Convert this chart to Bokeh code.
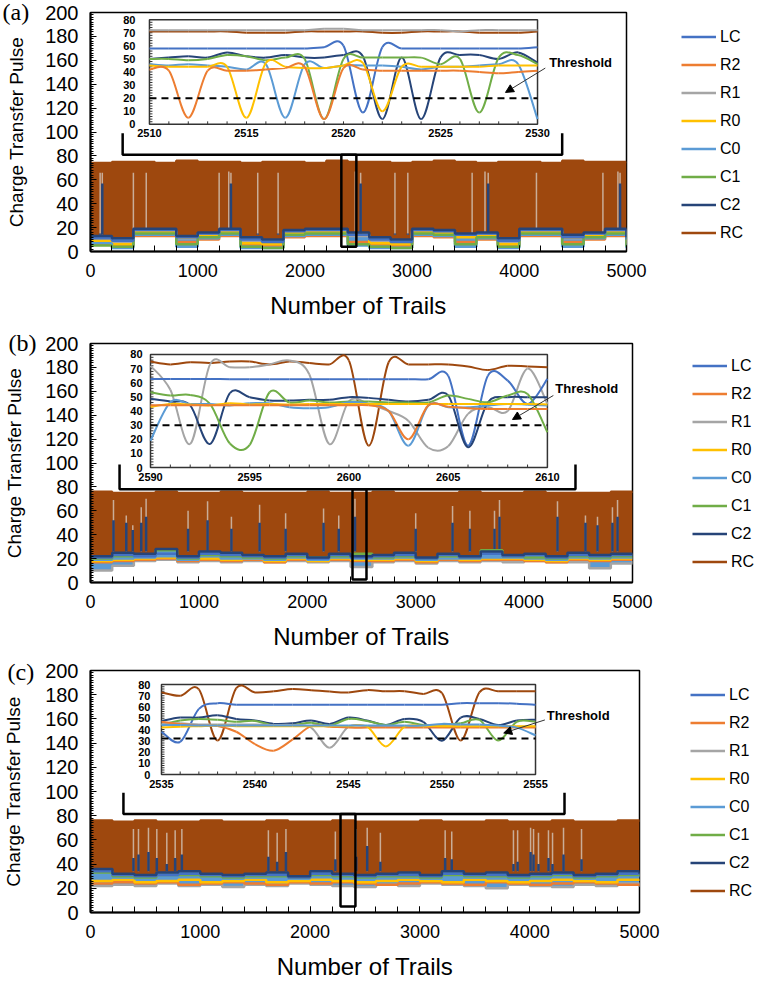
import numpy as np
from bokeh.plotting import figure
from bokeh.models import (Range1d, SingleIntervalTicker, Legend, LegendItem,
                          Label, Arrow, NormalHead)
from bokeh.layouts import column
from bokeh.embed import file_html
from bokeh.resources import INLINE
from bokeh.core.properties import value

FONT = "Liberation Sans"
SERIES = ["LC", "R2", "R1", "R0", "C0", "C1", "C2"]
COLORS = {"LC": "#4472C4", "R2": "#ED7D31", "R1": "#A5A5A5", "R0": "#FFC000",
          "C0": "#5B9BD5", "C1": "#70AD47", "C2": "#264478", "RC": "#9E480E"}

# ---------------- main panels: trials sampled every 200 ----------------
trial_x = [0, 200, 400, 600, 800, 1000, 1200, 1400, 1600, 1800, 2000, 2200, 2400,
           2600, 2800, 3000, 3200, 3400, 3600, 3800, 4000, 4200, 4400, 4600, 4800, 5000]

# panel (a)
a_RC = [74, 75, 75, 74, 76, 75, 75, 74, 75, 75, 74, 76, 75, 75, 74, 75, 76, 75, 74, 75, 75, 74, 76, 75, 75, 75]
a_C2 = [13, 11, 19, 19, 13, 16, 19, 12, 10, 18, 19, 19, 16, 12, 10, 19, 18, 15, 16, 11, 19, 19, 14, 16, 19, 12]
a_LC = [11, 9, 18, 18, 12, 15, 18, 10, 8, 17, 18, 18, 14, 10, 8, 18, 17, 14, 15, 9, 18, 18, 12, 15, 18, 10]
a_R1 = [10, 8, 17, 17, 11, 14, 17, 9, 7, 16, 17, 17, 13, 9, 7, 17, 16, 13, 14, 8, 17, 17, 11, 14, 17, 9]
a_R0 = [9, 6, 16, 16, 12, 13, 16, 7, 6, 15, 16, 16, 14, 7, 6, 16, 15, 12, 13, 6, 16, 16, 12, 13, 16, 7]
a_C1 = [5, 4, 15, 15, 6, 12, 15, 4, 3, 14, 15, 15, 6, 4, 3, 15, 14, 6, 12, 4, 15, 15, 6, 12, 15, 4]
a_C0 = [7, 3, 14, 14, 4, 11, 14, 3, 3, 13, 14, 14, 5, 3, 3, 14, 13, 4, 11, 3, 14, 14, 4, 11, 14, 3]
a_R2 = [6, 5, 13, 13, 8, 10, 13, 6, 5, 12, 13, 13, 8, 6, 5, 13, 12, 8, 10, 5, 13, 13, 8, 10, 13, 6]
a_spike_x = [90, 110, 400, 520, 1200, 1290, 1310, 1560, 1750, 2470, 2520, 2840, 2960, 3560, 3680, 3710, 4160, 4780, 4920, 4940]
a_spike_top = [66, 66, 66, 66, 66, 67, 66, 66, 66, 67, 66, 66, 66, 66, 67, 66, 66, 66, 67, 66]
a_spike_navy = [15, 57, 15, 15, 15, 15, 57, 15, 15, 15, 57, 15, 15, 15, 15, 57, 15, 15, 15, 57]

# panel (b)
b_RC = [76, 75, 75, 76, 75, 75, 76, 75, 75, 75, 76, 75, 75, 76, 75, 75, 75, 76, 75, 75, 76, 75, 75, 75, 76, 75]
b_C2 = [22, 25, 24, 28, 22, 26, 25, 23, 22, 24, 21, 24, 22, 23, 25, 21, 24, 22, 26, 23, 24, 22, 25, 23, 24, 25]
b_LC = [21, 23, 22, 24, 21, 24, 23, 22, 21, 23, 20, 23, 21, 22, 23, 20, 23, 21, 24, 22, 23, 21, 23, 22, 23, 23]
b_C1 = [20, 22, 23, 27, 20, 23, 22, 21, 20, 22, 21, 22, 24, 21, 22, 20, 22, 21, 27, 22, 21, 20, 22, 21, 22, 22]
b_C0 = [19, 20, 21, 22, 19, 22, 20, 20, 19, 21, 19, 21, 20, 20, 21, 19, 20, 20, 21, 21, 20, 19, 21, 20, 21, 21]
b_R0 = [18, 19, 20, 21, 19, 20, 19, 20, 18, 20, 18, 20, 19, 19, 20, 18, 20, 19, 20, 20, 19, 18, 20, 19, 20, 20]
b_R2 = [17, 18, 19, 20, 18, 19, 18, 19, 17, 19, 18, 19, 18, 18, 19, 17, 19, 18, 19, 19, 18, 17, 19, 18, 19, 19]
b_R1 = [10, 14, 18, 19, 17, 18, 17, 18, 17, 18, 17, 18, 13, 17, 18, 16, 18, 17, 18, 17, 18, 17, 17, 12, 16, 18]
b_spike_x = [212, 330, 390, 468, 513, 900, 1080, 1300, 1560, 1800, 2150, 2290, 2440, 3000, 3340, 3500, 3727, 3773, 4308, 4566, 4677, 4815, 4862]
b_spike_top = [69, 56, 48, 63, 70, 60, 68, 55, 65, 58, 62, 56, 70, 58, 64, 60, 60, 69, 68, 56, 55, 63, 69]
b_spike_navy = [52, 50, 44, 50, 55, 45, 52, 45, 50, 45, 50, 45, 55, 45, 50, 45, 45, 55, 55, 50, 48, 50, 55]

# panel (c)
c_RC = [76, 75, 76, 75, 75, 76, 75, 75, 76, 75, 75, 76, 75, 75, 75, 76, 75, 75, 76, 75, 75, 76, 75, 75, 76, 75]
c_C2 = [36, 32, 31, 33, 34, 32, 31, 32, 33, 30, 34, 32, 31, 32, 33, 31, 34, 32, 33, 31, 32, 33, 31, 32, 34, 32]
c_LC = [34, 31, 30, 31, 32, 31, 30, 31, 31, 29, 32, 31, 30, 31, 31, 30, 32, 31, 31, 30, 31, 32, 30, 31, 32, 31]
c_C1 = [33, 30, 29, 31, 31, 30, 29, 30, 30, 29, 31, 30, 29, 30, 30, 29, 31, 30, 30, 29, 30, 31, 29, 30, 31, 30]
c_C0 = [31, 29, 28, 30, 30, 29, 28, 29, 29, 28, 30, 29, 28, 29, 29, 28, 30, 29, 29, 28, 29, 30, 28, 29, 30, 29]
c_R0 = [26, 27, 25, 26, 27, 25, 26, 27, 25, 26, 27, 26, 25, 26, 27, 26, 25, 27, 26, 25, 26, 27, 26, 25, 27, 26]
c_R2 = [24, 25, 24, 25, 23, 24, 25, 24, 23, 25, 24, 25, 24, 23, 24, 25, 24, 23, 25, 24, 23, 24, 25, 24, 23, 24]
c_R1 = [22, 23, 22, 24, 22, 23, 21, 23, 22, 24, 23, 22, 21, 23, 22, 24, 23, 22, 20, 23, 22, 21, 23, 22, 24, 21]
c_spike_x = [391, 437, 528, 604, 695, 771, 832, 1620, 1700, 1780, 2230, 2420, 2520, 2640, 3230, 3290, 3852, 3890, 4008, 4035, 4080, 4171, 4208, 4308, 4472]
c_spike_top = [69, 69, 70, 69, 66, 68, 69, 68, 66, 69, 67, 69, 70, 66, 68, 67, 68, 68, 70, 69, 66, 68, 66, 70, 69]
c_spike_navy = [45, 48, 50, 45, 40, 45, 48, 46, 42, 50, 44, 46, 55, 42, 45, 44, 40, 42, 50, 48, 40, 45, 40, 48, 44]

# ---------------- insets ----------------
inset_y_ticks = [0, 10, 20, 30, 40, 50, 60, 70, 80]

ia_x = list(range(2510, 2531))
ia_xticks = [2510, 2515, 2520, 2525, 2530]
ia_threshold = 20
ia_RC = [71, 71, 71, 71, 71, 70, 70, 70, 71, 71, 71, 71, 70, 70, 71, 71, 71, 70, 70, 70, 71]
ia_R1 = [72, 72, 72, 72, 72, 72, 72, 72, 72, 73, 73, 72, 72, 72, 72, 72, 71, 72, 72, 72, 72]
ia_LC = [58, 58, 58, 58, 58, 58, 58, 58, 58, 59, 60, 9, 59, 58, 58, 58, 58, 58, 58, 58, 59]
ia_C2 = [50, 51, 52, 51, 55, 52, 51, 53, 51, 51, 53, 52, 4, 51, 4, 51, 53, 53, 50, 55, 47]
ia_C1 = [50, 50, 49, 50, 53, 52, 49, 51, 50, 4, 50, 51, 51, 51, 51, 46, 50, 9, 51, 53, 46]
ia_C0 = [46, 45, 46, 45, 44, 42, 46, 5, 46, 43, 45, 45, 45, 44, 42, 44, 44, 45, 46, 46, 4]
ia_R0 = [45, 44, 44, 44, 44, 5, 47, 44, 43, 43, 45, 47, 10, 44, 44, 44, 44, 44, 45, 45, 45]
ia_R2 = [42, 41, 5, 41, 41, 41, 42, 43, 44, 4, 43, 42, 41, 41, 41, 41, 41, 40, 39, 40, 41]

ib_x = list(range(2590, 2611))
ib_xticks = [2590, 2595, 2600, 2605, 2610]
ib_threshold = 30
ib_RC = [75, 73, 74.5, 74, 75, 75, 73, 75, 74, 73, 75.7, 15.5, 74.5, 73, 73, 73, 71.5, 69, 72, 71.5, 71]
ib_R1 = [72, 55, 16.7, 73, 71, 71, 73, 75.7, 66, 16.7, 47, 45, 40, 33, 14, 15, 38, 42.7, 40, 70, 45]
ib_LC = [62.7, 62.7, 62.7, 62.7, 62.5, 62.5, 62.5, 62.5, 62.5, 62.5, 62.5, 62.5, 62.5, 62.5, 62.5, 65, 15.5, 65, 61.5, 45, 62.7]
ib_C2 = [48.6, 46.7, 44, 16.7, 52.6, 49.8, 47.4, 47.4, 47.9, 47.9, 49.8, 49.3, 47.9, 46.7, 47.9, 51, 14.4, 46.2, 49.8, 49.8, 49.8]
ib_C1 = [53.3, 51, 51.4, 45, 17, 16, 53.3, 46, 47.4, 46, 46.7, 46.7, 46, 46, 46, 51, 48.6, 46.2, 51, 52, 25]
ib_C0 = [19, 46.2, 45, 45, 43.9, 45.5, 45.5, 42.7, 42, 42.7, 46.2, 45, 40, 15.5, 43.9, 42.7, 42.7, 43.9, 45, 44.5, 43.9]
ib_R0 = [43, 45, 44.7, 44, 45.5, 44.7, 45, 44.7, 45, 45, 45, 45, 45, 45, 45, 45, 45, 45, 45, 45, 44.7]
ib_R2 = [44, 44, 44, 44, 44, 44, 44, 44, 44, 44, 44, 44, 40, 20, 44, 43, 42, 41.5, 41.5, 41.5, 41.5]

ic_x = list(range(2535, 2556))
ic_xticks = [2535, 2540, 2545, 2550, 2555]
ic_threshold = 32
ic_RC = [73, 70, 75.7, 30.2, 76.7, 73, 74, 76, 75, 73.7, 73, 75, 74, 74, 71.6, 72.4, 30.2, 73, 74, 74, 74]
ic_LC = [38, 29, 58.3, 63.4, 62, 62, 62, 62, 62, 62, 62, 62, 62, 62, 62, 62, 63.4, 63.4, 63.4, 63, 62]
ic_C2 = [47.6, 50.6, 50.6, 52.7, 49.4, 48, 45, 45.5, 48, 45, 50.6, 48, 44, 49.4, 46.8, 30, 50.6, 49.4, 44, 48, 48.6]
ic_C1 = [44, 48, 49.4, 48.6, 46.8, 47.6, 43.5, 44, 46, 43.5, 49.4, 47.6, 44, 46.8, 44, 44, 45.5, 48.6, 30.2, 46.8, 46.8]
ic_R1 = [45, 45.5, 44.5, 44.5, 44.5, 44.5, 44, 44, 41.7, 23.8, 42.5, 43, 43, 43, 43, 43, 43, 43, 43, 42.5, 42.5]
ic_R2 = [46.8, 45, 43.5, 43, 38, 27, 21.2, 31, 43, 42.5, 41.7, 41.7, 41.7, 41.7, 41.7, 41.7, 41.7, 41.7, 41.7, 41.7, 41.7]
ic_R0 = [41.7, 42.5, 43, 43.5, 43, 43, 43, 43, 43, 43, 43, 42.5, 25, 42.5, 43, 43, 43, 43, 43, 43, 43]
ic_C0 = [44, 44, 43.5, 43.5, 43.5, 43.5, 43.5, 43.5, 43.5, 43.5, 43.5, 43.5, 43.5, 43.5, 43.5, 45, 44.5, 44.5, 43.5, 41.7, 34.8]

PANELS = [
    dict(tag="(a)", mbl=89, fw=536, fh=239, mbt=12, mbb=78, mbr=120, ystand=15,
         rc=a_RC, ser=dict(LC=a_LC, R2=a_R2, R1=a_R1, R0=a_R0, C0=a_C0, C1=a_C1, C2=a_C2),
         sx=a_spike_x, stop=a_spike_top, snavy=a_spike_navy, sbase=14,
         bracket=(300, 4400, 81, 99), zrect=(2340, 2480, 4, 81),
         ins_fx=(0.110, 0.834), ins_fy=(0.03, 0.468), ylab_off=-14,
         ix=ia_x, ixt=ia_xticks, thr=ia_threshold,
         iser=dict(RC=ia_RC, R1=ia_R1, LC=ia_LC, C2=ia_C2, C1=ia_C1, C0=ia_C0, R0=ia_R0, R2=ia_R2),
         ttxt=(2530.6, 47.2), tarr=(2530.4, 43.0, 2528.35, 24.4), leg=(55, 8), tagy=-1),
    dict(tag="(b)", mbl=83, fw=542, fh=239, mbt=14, mbb=75, mbr=120, ystand=17,
         rc=b_RC, ser=dict(LC=b_LC, R2=b_R2, R1=b_R1, R0=b_R0, C0=b_C0, C1=b_C1, C2=b_C2),
         sx=b_spike_x, stop=b_spike_top, snavy=b_spike_navy, sbase=26,
         bracket=(268, 4474, 78, 98.7), zrect=(2417, 2546, 2.5, 78),
         ins_fx=(0.1107, 0.843), ins_fy=(0.046, 0.519), ylab_off=-8,
         ix=ib_x, ixt=ib_xticks, thr=ib_threshold,
         iser=dict(RC=ib_RC, R1=ib_R1, LC=ib_LC, C2=ib_C2, C1=ib_C1, C0=ib_C0, R0=ib_R0, R2=ib_R2),
         ttxt=(2610.4, 55.9), tarr=(2610.3, 51, 2608.24, 34), leg=(60, 10), tagy=-1),
    dict(tag="(c)", mbl=84, fw=549, fh=242, mbt=13, mbb=75, mbr=112, ystand=18,
         rc=c_RC, ser=dict(LC=c_LC, R2=c_R2, R1=c_R1, R0=c_R0, C0=c_C0, C1=c_C1, C2=c_C2),
         sx=c_spike_x, stop=c_spike_top, snavy=c_spike_navy, sbase=34,
         bracket=(300, 4317, 81.5, 99), zrect=(2277, 2413, 5, 81.5),
         ins_fx=(0.1293, 0.8106), ins_fy=(0.0579, 0.4298), ylab_off=-11,
         ix=ic_x, ixt=ic_xticks, thr=ic_threshold,
         iser=dict(RC=ic_RC, LC=ic_LC, C2=ic_C2, C1=ic_C1, R1=ic_R1, R2=ic_R2, R0=ic_R0, C0=ic_C0),
         ttxt=(2555.6, 52.3), tarr=(2555.5, 48.5, 2553.3, 36.9), leg=(51, 11), tagy=1),
]


def smooth_segments(xs, ys):
    n = len(xs)
    out = {k: [] for k in ("x0", "y0", "x1", "y1", "cx0", "cy0", "cx1", "cy1")}
    for i in range(n - 1):
        xm, ym = (xs[i - 1], ys[i - 1]) if i > 0 else (xs[i], ys[i])
        xp, yp = (xs[i + 2], ys[i + 2]) if i + 2 < n else (xs[i + 1], ys[i + 1])
        out["x0"].append(xs[i]); out["y0"].append(ys[i])
        out["x1"].append(xs[i + 1]); out["y1"].append(ys[i + 1])
        out["cx0"].append(xs[i] + (xs[i + 1] - xm) / 6.0)
        out["cy0"].append(ys[i] + (ys[i + 1] - ym) / 6.0)
        out["cx1"].append(xs[i + 1] - (xp - xs[i]) / 6.0)
        out["cy1"].append(ys[i + 1] - (yp - ys[i]) / 6.0)
    return out


def build(P):
    p = figure(frame_width=P["fw"], frame_height=P["fh"],
               min_border_left=P["mbl"], min_border_right=P["mbr"],
               min_border_top=P["mbt"], min_border_bottom=P["mbb"],
               x_range=Range1d(0, 5000), y_range=Range1d(0, 200),
               output_backend="svg", toolbar_location=None, tools="")
    p.xgrid.visible = False
    p.ygrid.visible = False
    p.outline_line_color = "black"
    p.outline_line_width = 1.5
    p.background_fill_color = "white"

    # inset ranges
    fx0, fx1 = P["ins_fx"]
    fyt, fyb = P["ins_fy"]
    ix0, ix1 = P["ix"][0], P["ix"][-1]
    spanx = (ix1 - ix0) / (fx1 - fx0)
    sx0 = ix0 - fx0 * spanx
    b0, b1 = 1 - fyb, 1 - fyt
    spany = 80.0 / (b1 - b0)
    sy0 = 0 - b0 * spany
    p.extra_x_ranges = {"ix": Range1d(sx0, sx0 + spanx)}
    p.extra_y_ranges = {"iy": Range1d(sy0, sy0 + spany)}
    dxpx = spanx / P["fw"]
    dypx = spany / P["fh"]
    I = dict(x_range_name="ix", y_range_name="iy")

    # ----- main data -----
    ser = P["ser"]
    arr = np.array([ser[k] for k in SERIES], dtype=float)
    lo = arr.min(axis=0)
    hi = arr.max(axis=0)
    p.varea_step(x=trial_x, y1=hi, y2=P["rc"], step_mode="after",
                 fill_color=COLORS["RC"])
    p.varea_step(x=trial_x, y1=lo, y2=hi, step_mode="after",
                 fill_color=COLORS["C0"])
    nsp = len(P["sx"])
    p.segment(x0=P["sx"], y0=[P["sbase"]] * nsp, x1=P["sx"], y1=P["stop"],
              line_color="#C9AD98", line_width=1.5)
    p.segment(x0=P["sx"], y0=[P["sbase"]] * nsp, x1=P["sx"], y1=P["snavy"],
              line_color=COLORS["C2"], line_width=2.5)
    rend = {}
    for k in ["R1", "R2", "R0", "C0", "C1", "LC", "C2"]:
        rend[k] = p.step(x=trial_x, y=ser[k], mode="after",
                         line_color=COLORS[k], line_width=2.5)
    rend["RC"] = p.step(x=trial_x, y=P["rc"], mode="after",
                        line_color=COLORS["RC"], line_width=2.5)

    # bracket and zoom box
    xl, xr, yb, yt = P["bracket"]
    p.line(x=[xl, xl, xr, xr], y=[yt, yb, yb, yt], line_color="black", line_width=2.5)
    zl, zr, zb, zt = P["zrect"]
    p.quad(left=[zl], right=[zr], bottom=[zb], top=[zt], fill_alpha=0,
           line_color="black", line_width=2.5)

    # ----- inset -----
    p.quad(left=[ix0], right=[ix1], bottom=[0], top=[80], fill_color="white",
           line_color="#333333", line_width=1.5, **I)
    ymin_t = list(range(2, 80, 2))
    p.segment(x0=[ix0] * len(ymin_t), y0=ymin_t, x1=[ix0 + 3 * dxpx] * len(ymin_t),
              y1=ymin_t, line_color="#333333", line_width=1, **I)
    xt = P["ix"][1:-1]
    p.segment(x0=xt, y0=[0] * len(xt), x1=xt, y1=[3 * dypx] * len(xt),
              line_color="#333333", line_width=1, **I)
    p.text(x=[ix0] * len(inset_y_ticks), y=inset_y_ticks,
           text=[str(v) for v in inset_y_ticks], x_offset=P["ylab_off"],
           text_font=value(FONT), text_font_style="bold", text_font_size="11px",
           text_align="right", text_baseline="middle", text_color="black", **I)
    p.text(x=P["ixt"], y=[0] * len(P["ixt"]), text=[str(v) for v in P["ixt"]],
           y_offset=5, text_font=value(FONT), text_font_style="bold",
           text_font_size="11px", text_align="center", text_baseline="top",
           text_color="black", **I)
    for k, ys in P["iser"].items():
        seg = smooth_segments(P["ix"], ys)
        p.bezier(line_color=COLORS[k], line_width=2, **seg, **I)
    p.line(x=[ix0, ix1], y=[P["thr"], P["thr"]], line_color="black",
           line_width=2, line_dash="7 5", **I)
    tx, ty = P["ttxt"]
    p.add_layout(Label(x=tx, y=ty, text="Threshold", text_font=FONT,
                       text_font_style="bold", text_font_size="13px",
                       text_color="black",
                       text_baseline="middle", text_align="left", **I))
    ax0, ay0, ax1, ay1 = P["tarr"]
    p.add_layout(Arrow(end=NormalHead(size=8, fill_color="black", line_color="black"),
                       x_start=ax0, y_start=ay0, x_end=ax1, y_end=ay1,
                       line_color="#333333", line_width=1, **I))

    # axes
    p.xaxis.ticker = SingleIntervalTicker(interval=1000, num_minor_ticks=5)
    p.yaxis.ticker = SingleIntervalTicker(interval=20, num_minor_ticks=10)
    for ax in (p.xaxis[0], p.yaxis[0]):
        ax.axis_line_width = 2
        ax.axis_line_color = "black"
        ax.major_tick_line_color = "black"
        ax.minor_tick_line_color = "black"
        ax.major_tick_out = 0
        ax.minor_tick_out = 0
        ax.major_label_text_font = FONT
        ax.major_label_text_color = "black"
        ax.axis_label_text_font = FONT
        ax.axis_label_text_font_style = "normal"
        ax.axis_label_text_color = "black"
    p.xaxis.major_tick_in = 6
    p.xaxis.minor_tick_in = 6
    p.yaxis.major_tick_in = 6
    p.yaxis.minor_tick_in = 3
    p.xaxis.major_label_text_font_size = "18px"
    p.yaxis.major_label_text_font_size = "20px"
    p.xaxis.major_label_standoff = 12
    p.yaxis.major_label_standoff = 12
    p.xaxis.axis_label = "Number of Trails"
    p.xaxis.axis_label_text_font_size = "24px"
    p.xaxis.axis_label_standoff = 12
    p.yaxis.axis_label = "Charge Transfer Pulse"
    p.yaxis.axis_label_text_font_size = "19px"
    p.yaxis.axis_label_standoff = P["ystand"]

    items = [LegendItem(label=k, renderers=[rend[k]]) for k in SERIES + ["RC"]]
    leg = Legend(items=items, location=P["leg"], orientation="vertical",
                 glyph_width=35, glyph_height=21, label_height=21, spacing=7,
                 padding=0, margin=0, border_line_color=None,
                 background_fill_alpha=0, label_text_font=FONT,
                 label_text_color="black",
                 label_text_font_size="16px", label_standoff=4)
    p.add_layout(leg, "right")

    # panel tag: placed in a side panel (not clipped by the frame), positioned in data units
    tag_x = (1 - P["mbl"]) * 5000.0 / P["fw"]
    tag_y = 200.0 - P["tagy"] * 200.0 / P["fh"]
    p.add_layout(Label(x=tag_x, y=tag_y, text=P["tag"], text_font="Liberation Serif",
                       text_font_size="24px", text_color="black",
                       text_baseline="middle", text_align="left"),
                 "right")
    return p


figs = [build(P) for P in PANELS]
layout = column(*figs)
open("out.html", "w").write(file_html(layout, INLINE))
